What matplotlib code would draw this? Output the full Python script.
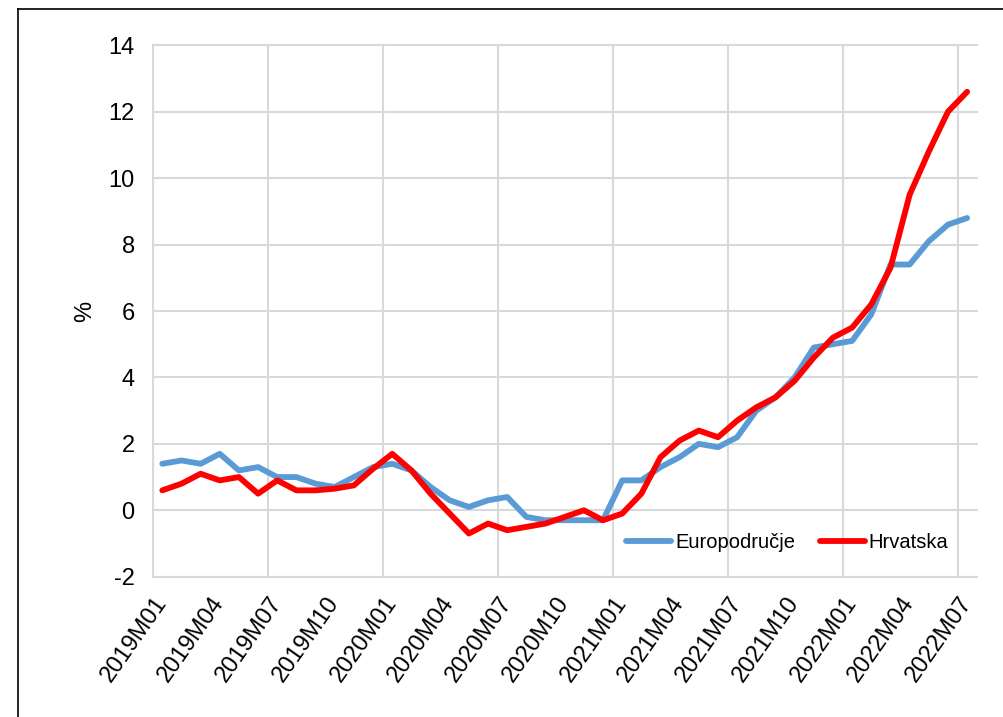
import matplotlib
matplotlib.use('Agg')
import matplotlib.pyplot as plt
import numpy as np
from matplotlib.lines import Line2D

plt.rcParams['font.family'] = ['Liberation Sans', 'DejaVu Sans']
plt.rcParams['axes.unicode_minus'] = False

months = ['{}M{:02d}'.format(y, m) for y in range(2019, 2023) for m in range(1, 13)][:43]

euro = [1.4, 1.5, 1.4, 1.7, 1.2, 1.3, 1.0, 1.0, 0.8, 0.7, 1.0, 1.3,
        1.4, 1.2, 0.7, 0.3, 0.1, 0.3, 0.4, -0.2, -0.3, -0.3, -0.3, -0.3,
        0.9, 0.9, 1.3, 1.6, 2.0, 1.9, 2.2, 3.0, 3.4, 4.0, 4.9, 5.0,
        5.1, 5.9, 7.4, 7.4, 8.1, 8.6, 8.8]
hrvatska = [0.6, 0.8, 1.1, 0.9, 1.0, 0.5, 0.9, 0.6, 0.6, 0.65, 0.75, 1.25,
            1.7, 1.2, 0.5, -0.1, -0.7, -0.4, -0.6, -0.5, -0.4, -0.2, 0.0, -0.3,
            -0.1, 0.5, 1.6, 2.1, 2.4, 2.2, 2.7, 3.1, 3.4, 3.9, 4.6, 5.2,
            5.5, 6.2, 7.3, 9.5, 10.8, 12.0, 12.6]

W, H = 1004, 717
fig = plt.figure(figsize=(W / 100, H / 100), dpi=100)
ax = fig.add_axes([152.7 / W, 1 - 576.7 / H, (976.7 - 152.7) / W, (576.7 - 45.3) / H])

x = np.arange(len(months))
grid_c = '#D9D9D9'
ax.plot(x, euro, color='#5B9BD5', lw=4.2, solid_capstyle='round', solid_joinstyle='round',
        label='Europodručje', zorder=3)
ax.plot(x, hrvatska, color='#FF0000', lw=4.2, solid_capstyle='round', solid_joinstyle='round',
        label='Hrvatska', zorder=4)

ax.set_xlim(-0.5, len(months) - 0.5)
ax.set_ylim(-2, 14)
ax.set_yticks(np.arange(-2, 15, 2))
ax.set_xticks(x[::3])
ax.set_xticklabels(months[::3], rotation=55, ha='right', va='center', rotation_mode='anchor')
ax.set_xticks(np.arange(-0.5, len(months), 6), minor=True)
ax.tick_params(axis='both', which='both', length=0, labelsize=17)
ax.tick_params(axis='y', pad=13)
ax.tick_params(axis='x', pad=16)

ax.grid(axis='y', which='major', color=grid_c, lw=1.5)
ax.grid(axis='x', which='minor', color=grid_c, lw=1.5)
for ln in ax.get_ygridlines():
    ln.set_clip_on(False)
for s in ['top', 'right']:
    ax.spines[s].set_visible(False)
for s in ['left', 'bottom']:
    ax.spines[s].set_color(grid_c)
    ax.spines[s].set_linewidth(1.5)
ax.set_axisbelow(True)

fig.text(85 / W, 1 - 311 / H, '%', rotation=90, fontsize=17, ha='center', va='center')

fig.legend(loc='center left', bbox_to_anchor=(626 / W, 1 - 542.3 / H), frameon=False,
           ncol=2, fontsize=14.5, handlelength=2.25, handletextpad=0.2, columnspacing=1.2,
           borderpad=0, borderaxespad=0)

# frame of the original picture (only top and left visible)
fig.add_artist(Line2D([18.3 / W, 18.3 / W], [0, 1 - 9.3 / H], color='black', lw=1.2))
fig.add_artist(Line2D([18.3 / W, 1], [1 - 9.3 / H, 1 - 9.3 / H], color='black', lw=1.2))

fig.savefig('out.png', dpi=100)
